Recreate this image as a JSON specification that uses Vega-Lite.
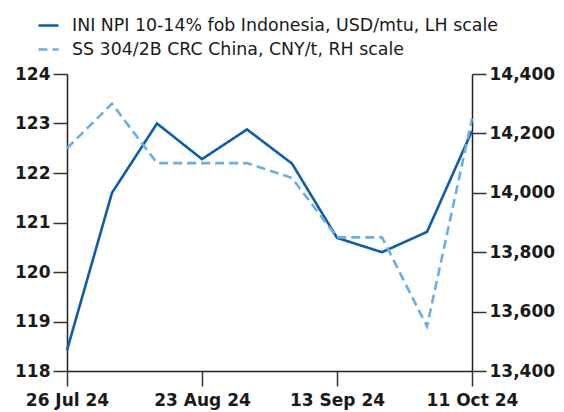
{
  "$schema": "https://vega.github.io/schema/vega-lite/v6.json",
  "autosize": {"type": "none"},
  "padding": {"left": 67, "top": 74, "right": 92, "bottom": 41},
  "width": 405,
  "height": 297,
  "background": "white",
  "config": {
    "view": {"stroke": null},
    "font": "DejaVu Sans",
    "axis": {
      "labelFont": "DejaVu Sans",
      "labelFontWeight": "bold",
      "labelFontSize": 17,
      "labelColor": "#1a1a1a",
      "domainColor": "#222222",
      "domainWidth": 1.5,
      "tickColor": "#333333",
      "tickWidth": 1.5,
      "grid": false,
      "title": null
    }
  },
  "data": {
    "values": [
      {"date": "26 Jul 24", "series": "INI NPI 10-14% fob Indonesia, USD/mtu, LH scale", "value": 118.42},
      {"date": "2 Aug 24", "series": "INI NPI 10-14% fob Indonesia, USD/mtu, LH scale", "value": 121.6},
      {"date": "9 Aug 24", "series": "INI NPI 10-14% fob Indonesia, USD/mtu, LH scale", "value": 123.0},
      {"date": "23 Aug 24", "series": "INI NPI 10-14% fob Indonesia, USD/mtu, LH scale", "value": 122.28},
      {"date": "30 Aug 24", "series": "INI NPI 10-14% fob Indonesia, USD/mtu, LH scale", "value": 122.88},
      {"date": "6 Sep 24", "series": "INI NPI 10-14% fob Indonesia, USD/mtu, LH scale", "value": 122.19},
      {"date": "13 Sep 24", "series": "INI NPI 10-14% fob Indonesia, USD/mtu, LH scale", "value": 120.69},
      {"date": "20 Sep 24", "series": "INI NPI 10-14% fob Indonesia, USD/mtu, LH scale", "value": 120.4},
      {"date": "27 Sep 24", "series": "INI NPI 10-14% fob Indonesia, USD/mtu, LH scale", "value": 120.81},
      {"date": "11 Oct 24", "series": "INI NPI 10-14% fob Indonesia, USD/mtu, LH scale", "value": 122.85},
      {"date": "26 Jul 24", "series": "SS 304/2B CRC China, CNY/t, RH scale", "value": 14150},
      {"date": "2 Aug 24", "series": "SS 304/2B CRC China, CNY/t, RH scale", "value": 14300},
      {"date": "9 Aug 24", "series": "SS 304/2B CRC China, CNY/t, RH scale", "value": 14100},
      {"date": "23 Aug 24", "series": "SS 304/2B CRC China, CNY/t, RH scale", "value": 14100},
      {"date": "30 Aug 24", "series": "SS 304/2B CRC China, CNY/t, RH scale", "value": 14100},
      {"date": "6 Sep 24", "series": "SS 304/2B CRC China, CNY/t, RH scale", "value": 14050},
      {"date": "13 Sep 24", "series": "SS 304/2B CRC China, CNY/t, RH scale", "value": 13850},
      {"date": "20 Sep 24", "series": "SS 304/2B CRC China, CNY/t, RH scale", "value": 13850},
      {"date": "27 Sep 24", "series": "SS 304/2B CRC China, CNY/t, RH scale", "value": 13550},
      {"date": "11 Oct 24", "series": "SS 304/2B CRC China, CNY/t, RH scale", "value": 14250}
    ]
  },
  "encoding": {
    "x": {
      "field": "date",
      "type": "ordinal",
      "sort": null,
      "scale": {"type": "point", "padding": 0},
      "axis": {
        "values": ["26 Jul 24", "23 Aug 24", "13 Sep 24", "11 Oct 24"],
        "labelAngle": 0,
        "tickSize": 15,
        "labelPadding": 6,
        "labelBaseline": "top"
      }
    },
    "color": {
      "field": "series",
      "type": "nominal",
      "scale": {
        "domain": ["INI NPI 10-14% fob Indonesia, USD/mtu, LH scale", "SS 304/2B CRC China, CNY/t, RH scale"],
        "range": ["#0b5ea8", "#6aaee4"]
      },
      "legend": {
        "title": null,
        "orient": "none",
        "legendX": -30,
        "legendY": -60,
        "direction": "vertical",
        "symbolType": "stroke",
        "symbolSize": 400,
        "symbolStrokeWidth": 2.5,
        "labelFont": "DejaVu Sans",
        "labelFontSize": 17.4,
        "labelColor": "#1a1a1a",
        "labelOffset": 12,
        "rowPadding": 4,
        "labelLimit": 600
      }
    },
    "strokeDash": {
      "field": "series",
      "type": "nominal",
      "scale": {
        "domain": ["INI NPI 10-14% fob Indonesia, USD/mtu, LH scale", "SS 304/2B CRC China, CNY/t, RH scale"],
        "range": [[1, 0], [9, 5]]
      },
      "legend": {
        "title": null,
        "orient": "none",
        "legendX": -30,
        "legendY": -60,
        "direction": "vertical",
        "symbolType": "stroke",
        "symbolSize": 400,
        "symbolStrokeWidth": 2.5,
        "labelFont": "DejaVu Sans",
        "labelFontSize": 17.4,
        "labelColor": "#1a1a1a",
        "labelOffset": 12,
        "rowPadding": 4,
        "labelLimit": 600
      }
    }
  },
  "layer": [
    {
      "transform": [{"filter": "datum.series === 'INI NPI 10-14% fob Indonesia, USD/mtu, LH scale'"}],
      "mark": {"type": "line", "strokeWidth": 2.6},
      "encoding": {
        "y": {
          "field": "value",
          "type": "quantitative",
          "scale": {"domain": [118, 124], "zero": false, "nice": false},
          "axis": {"orient": "left", "values": [118, 119, 120, 121, 122, 123, 124], "tickSize": 14, "labelPadding": 3}
        }
      }
    },
    {
      "transform": [{"filter": "datum.series === 'SS 304/2B CRC China, CNY/t, RH scale'"}],
      "mark": {"type": "line", "strokeWidth": 2.6},
      "encoding": {
        "y": {
          "field": "value",
          "type": "quantitative",
          "scale": {"domain": [13400, 14400], "zero": false, "nice": false},
          "axis": {"orient": "right", "values": [13400, 13600, 13800, 14000, 14200, 14400], "format": ",.0f", "tickSize": 14, "labelPadding": 3}
        }
      }
    }
  ],
  "resolve": {"scale": {"y": "independent"}}
}
